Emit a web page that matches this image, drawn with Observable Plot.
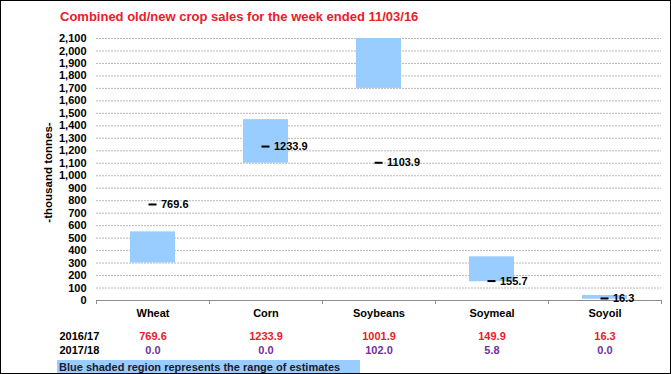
<!DOCTYPE html>
<html><head><meta charset="utf-8">
<script src="https://cdn.jsdelivr.net/npm/d3@7"></script>
<script src="https://cdn.jsdelivr.net/npm/@observablehq/plot@0.6"></script>
<style>
body{margin:0;background:#fff;font-family:"Liberation Sans",Arial,sans-serif;}
#wrap{position:relative;width:671px;height:374px;overflow:hidden;background:#fff}
#title{position:absolute;left:60px;top:9px;line-height:16px;font-size:13px;font-weight:bold;color:#e8202a;white-space:nowrap}
#caption{position:absolute;left:57px;top:360px;width:303px;height:14px;background:#99ccff;font-size:11px;font-weight:bold;color:#1a1a2e;line-height:14px;padding-left:2px;box-sizing:border-box;white-space:nowrap}
#frame{position:absolute;left:0;top:0;width:671px;height:374px;border:1px solid #000;box-sizing:border-box;pointer-events:none;z-index:5}
#wrap svg{position:absolute;left:0;top:0}
</style></head>
<body><div id="wrap"><div id="title"></div><div id="caption"></div><div id="frame"></div></div>
<script>
const titleText = "Combined old/new crop sales for the week ended 11/03/16";
const captionText = "Blue shaded region represents the range of estimates";
const yLabel = "-thousand tonnes-";
const crops = ["Wheat", "Corn", "Soybeans", "Soymeal", "Soyoil"];
const rangeLow = [300, 1100, 1700, 150, 10];
const rangeHigh = [550, 1450, 2100, 350, 40];
const actual = [769.6, 1233.9, 1103.9, 155.7, 16.3];
const sales1617 = [769.6, 1233.9, 1001.9, 149.9, 16.3];
const sales1718 = [0.0, 0.0, 102.0, 5.8, 0.0];
const rowLabels = ["2016/17", "2017/18"];
const yTicks = [0,100,200,300,400,500,600,700,800,900,1000,1100,1200,1300,1400,1500,1600,1700,1800,1900,2000,2100];

const data = crops.map((c, i) => ({
  crop: c, low: rangeLow[i], high: rangeHigh[i], actual: actual[i],
  s1617: sales1617[i], s1718: sales1718[i]
}));

const font = {fontSize: 11, fontWeight: "bold", fill: "#000"};
const fmt = d3.format(",");

const plot = Plot.plot({
  width: 671,
  height: 374,
  marginLeft: 96,
  marginRight: 10,
  marginTop: 38,
  marginBottom: 74,
  style: {fontFamily: "'Liberation Sans', Arial, sans-serif", background: "transparent", overflow: "visible"},
  x: {type: "band", domain: crops, paddingInner: 0.6, paddingOuter: 0.3},
  y: {domain: [0, 2100]},
  marks: [
    Plot.gridY({ticks: yTicks, stroke: "#b8b8b8", strokeOpacity: 1, strokeDasharray: "2,1"}),
    Plot.barY(data, {x: "crop", y1: "low", y2: "high", fill: "#99ccff"}),
    Plot.ruleY([0], {stroke: "#8c8c8c", strokeWidth: 1.2}),
    Plot.ruleX(crops, {x: d => d, dx: -56.5, y1: 0, y2: 0, insetBottom: -4, stroke: "#8c8c8c"}),
    Plot.ruleX([crops[crops.length - 1]], {x: d => d, dx: 56.5, y1: 0, y2: 0, insetBottom: -4, stroke: "#8c8c8c"}),
    Plot.tickY(data, {x: "crop", y: "actual", stroke: "#000", strokeWidth: 2, insetLeft: 18.5, insetRight: 18.5}),
    Plot.text(data, {x: "crop", y: "actual", text: d => d.actual.toFixed(1), dx: 8, textAnchor: "start", ...font}),
    Plot.axisY({ticks: yTicks, tickFormat: fmt, tickSize: 0, tickPadding: 10, label: null, ...font}),
    Plot.axisX({tickSize: 0, tickPadding: 9, label: null, ...font}),
    Plot.text([yLabel], {frameAnchor: "left", textAnchor: "middle", dx: -48, dy: 3, rotate: -90, ...font, fontSize: 11.5}),
    Plot.text(data, {x: "crop", text: d => d.s1617.toFixed(1), frameAnchor: "bottom", dy: 39, ...font, fill: "#e8202a"}),
    Plot.text(data, {x: "crop", text: d => d.s1718.toFixed(1), frameAnchor: "bottom", dy: 53, ...font, fill: "#7030a0"}),
    Plot.text([rowLabels[0]], {frameAnchor: "bottom-left", dx: -37, dy: 39, textAnchor: "start", ...font}),
    Plot.text([rowLabels[1]], {frameAnchor: "bottom-left", dx: -37, dy: 53, textAnchor: "start", ...font})
  ]
});

document.getElementById("wrap").insertBefore(plot, document.getElementById("title"));
document.getElementById("title").textContent = titleText;
document.getElementById("caption").textContent = captionText;
</script>
</body></html>
